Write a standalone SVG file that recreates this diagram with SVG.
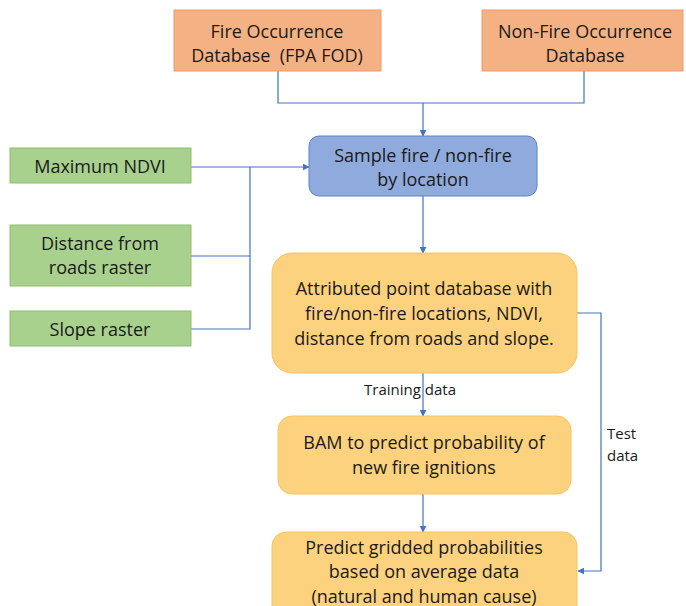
<svg xmlns="http://www.w3.org/2000/svg" width="686" height="606" viewBox="0 0 686 606">
<defs>
<marker id="arr" viewBox="0 0 10 10" refX="9" refY="5" markerWidth="7" markerHeight="7" markerUnits="userSpaceOnUse" orient="auto">
<path d="M0,0 L10,5 L0,10 z" fill="#4472C4"/>
</marker>
<style>
text{font-family:"Open Sans",Lato,"Liberation Sans",sans-serif;fill:#1a1a1a;text-anchor:middle;dominant-baseline:central}
.t{font-size:18px}
.s{font-size:15px}
.red{fill:#F4B183;stroke:#F09A6A;stroke-width:1}
.grn{fill:#A9D18E;stroke:#8DBF6E;stroke-width:1}
.blu{fill:#8FAADC;stroke:#5B82CC;stroke-width:1}
.org{fill:#FDD27F;stroke:#F6C55E;stroke-width:1}
.ln{fill:none;stroke:#4472C4;stroke-width:1.2}
</style>
</defs>
<rect width="686" height="606" fill="#fff"/>
<g id="connectors">
<polyline class="ln" points="278,71 278,103 584,103 584,71"/>
<line class="ln" x1="423" y1="103" x2="423" y2="136" marker-end="url(#arr)"/>
<line class="ln" x1="191" y1="167" x2="309" y2="167" marker-end="url(#arr)"/>
<polyline class="ln" points="250,167 250,329 191,329"/>
<line class="ln" x1="191" y1="256" x2="250" y2="256"/>
<line class="ln" x1="423" y1="196" x2="423" y2="253" marker-end="url(#arr)"/>
<line class="ln" x1="423" y1="373" x2="423" y2="416" marker-end="url(#arr)"/>
<line class="ln" x1="423" y1="494" x2="423" y2="532" marker-end="url(#arr)"/>
<polyline class="ln" points="577,313 601,313 601,571 578,571" marker-end="url(#arr)"/>
<text class="s" x="410" y="389">Training data</text>
<text class="s" x="607" y="433" style="text-anchor:start">Test</text>
<text class="s" x="607" y="455" style="text-anchor:start">data</text>
</g>
<g id="fire-db">
<rect class="red" x="174" y="10" width="207" height="61"/>
<text class="t" x="277" y="31">Fire Occurrence</text>
<text class="t" x="277" y="55" xml:space="preserve">Database  (FPA FOD)</text>
</g>
<g id="nonfire-db">
<rect class="red" x="482" y="10" width="201" height="61"/>
<text class="t" x="585" y="31">Non-Fire Occurrence</text>
<text class="t" x="585" y="55">Database</text>
</g>
<g id="sample">
<rect class="blu" x="309" y="136" width="228" height="60" rx="10"/>
<text class="t" x="423" y="155">Sample fire / non-fire</text>
<text class="t" x="423" y="179">by location</text>
</g>
<g id="ndvi">
<rect class="grn" x="10" y="148" width="181" height="35"/>
<text class="t" x="100" y="166">Maximum NDVI</text>
</g>
<g id="roads">
<rect class="grn" x="10" y="225" width="181" height="61"/>
<text class="t" x="100" y="243">Distance from</text>
<text class="t" x="100" y="267">roads raster</text>
</g>
<g id="slope">
<rect class="grn" x="10" y="311" width="181" height="35"/>
<text class="t" x="100" y="329">Slope raster</text>
</g>
<g id="attributed">
<rect class="org" x="272" y="253" width="305" height="120" rx="20"/>
<text class="t" x="424" y="288">Attributed point database with</text>
<text class="t" x="424" y="313">fire/non-fire locations, NDVI,</text>
<text class="t" x="424" y="338">distance from roads and slope.</text>
</g>
<g id="bam">
<rect class="org" x="278" y="416" width="293" height="78" rx="14"/>
<text class="t" x="424" y="442">BAM to predict probability of</text>
<text class="t" x="424" y="467">new fire ignitions</text>
</g>
<g id="predict">
<rect class="org" x="272" y="532" width="305" height="90" rx="14"/>
<text class="t" x="424" y="547">Predict gridded probabilities</text>
<text class="t" x="424" y="571">based on average data</text>
<text class="t" x="424" y="596">(natural and human cause)</text>
</g>
</svg>
